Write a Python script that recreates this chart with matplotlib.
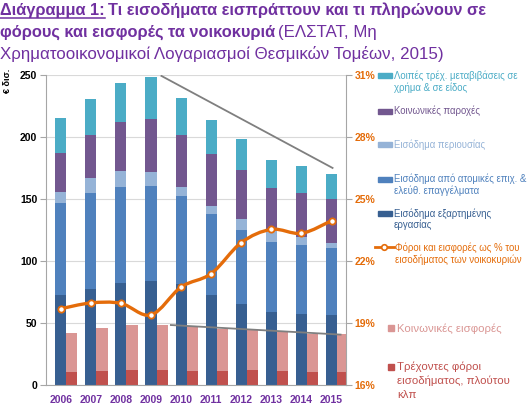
import matplotlib
matplotlib.use("Agg")
import matplotlib.pyplot as plt
import matplotlib.patches as mpatches
from matplotlib.lines import Line2D
from matplotlib.path import Path
import numpy as np

plt.rcParams['font.family'] = ['Liberation Sans', 'DejaVu Sans']

# values (€ bn and %)
years = [2006, 2007, 2008, 2009, 2010, 2011, 2012, 2013, 2014, 2015]
wages = [72.6, 77.7, 82.3, 84.1, 81.2, 72.3, 65.1, 58.9, 57.3, 56.2]
self_employed = [74.2, 77.1, 77.4, 76.7, 71.2, 65.6, 59.6, 56.4, 55.6, 54.3]
property_income = [8.8, 11.9, 12.6, 11.0, 7.3, 6.7, 9.2, 8.9, 6.7, 3.7]
social_benefits = [31.7, 34.9, 40.1, 42.7, 41.6, 41.4, 39.8, 34.9, 35.5, 36.1]
other_transfers = [27.7, 28.8, 31.4, 33.6, 30.4, 27.4, 24.7, 22.4, 21.5, 20.1]
current_taxes = [10.8, 11.6, 12.1, 12.4, 11.3, 11.3, 12.4, 11.6, 10.8, 10.2]
social_contrib = [31.4, 34.1, 36.3, 35.7, 36.3, 33.9, 32.0, 30.9, 30.3, 30.6]
tax_share = [19.69, 19.97, 19.95, 19.39, 20.74, 21.39, 22.89, 23.53, 23.34, 23.95]

# the two grey trend strokes
trend_top_x = [2009.32, 2015.06]
trend_top_y = [249.6, 174.7]
trend_low_x = [2009.63, 2015.33]
trend_low_y = [48.4, 40.6]

left_ticks = [0, 50, 100, 150, 200, 250]
right_ticks = [16, 19, 22, 25, 28, 31]

C_WAGES = "#375F91"
C_SELF = "#4F81BD"
C_PROP = "#95B3D7"
C_BEN = "#72578F"
C_OTHER = "#4BACC6"
C_CONTRIB = "#DA9694"
C_TAX = "#C0504D"
C_LINE = "#E46C0A"
PURPLE = "#7030A0"

W, H = 532, 413
fig = plt.figure(figsize=(W / 100, H / 100), dpi=100)


def fx(px):
    return px / W


def fy(py):
    return 1 - py / H


ax = fig.add_axes([fx(45.7), fy(385), fx(346) - fx(45.7), fy(75) - fy(385)])
ax2 = ax.twinx()

x = np.array(years, dtype=float)
bw = 0.37

# stacked income bars
bottom = np.zeros(len(years))
for vals, col in [(wages, C_WAGES), (self_employed, C_SELF), (property_income, C_PROP),
                  (social_benefits, C_BEN), (other_transfers, C_OTHER)]:
    ax.bar(x, vals, bw, bottom=bottom, color=col, zorder=2)
    bottom += np.array(vals)

# taxes and contributions next to them
ax.bar(x + bw, current_taxes, bw, color=C_TAX, zorder=2)
ax.bar(x + bw, social_contrib, bw, bottom=current_taxes, color=C_CONTRIB, zorder=2)

ax.plot(trend_top_x, trend_top_y, color="#7F7F7F", lw=1.3, zorder=3, solid_capstyle="butt")
ax.plot(trend_low_x, trend_low_y, color="#7F7F7F", lw=1.3, zorder=3, solid_capstyle="butt")

ax.set_xlim(2005.5, 2015.48)
ax.set_ylim(0, 250)
ax.set_yticks(left_ticks)
ax.set_xticks(years)
ax.set_xticklabels([str(y) for y in years], color=PURPLE, fontweight="bold", fontsize=7.5)
ax.tick_params(axis="x", length=0, pad=7)
ax.tick_params(axis="y", length=4, color="#A6A6A6", labelsize=7.5, pad=2)
for lab in ax.get_yticklabels():
    lab.set_fontweight("bold")
ax.grid(axis="y", color="#D9D9D9", lw=0.8, zorder=0)
ax.set_axisbelow(True)
for s in ["top", "right"]:
    ax.spines[s].set_visible(False)
ax.spines["left"].set_color("#A6A6A6")
ax.spines["bottom"].set_color("#A6A6A6")

# smooth line for tax share (bezier through the points)
ax2.set_ylim(16, 31)
ax2.set_yticks(right_ticks)
ax2.set_yticklabels([f"{t}%" for t in right_ticks], color=C_LINE, fontweight="bold", fontsize=7.5)
ax2.tick_params(axis="y", length=4, color="#A6A6A6", pad=2)
for s in ["top", "left", "bottom"]:
    ax2.spines[s].set_visible(False)
ax2.spines["right"].set_color("#A6A6A6")

pts = np.column_stack([x, tax_share])
ext = np.vstack([pts[0], pts, pts[-1]])
verts = [tuple(pts[0])]
codes = [Path.MOVETO]
for i in range(len(pts) - 1):
    p0, p1, p2, p3 = ext[i], ext[i + 1], ext[i + 2], ext[i + 3]
    c1 = p1 + (p2 - p0) / 6
    c2 = p2 - (p3 - p1) / 6
    verts += [tuple(c1), tuple(c2), tuple(p2)]
    codes += [Path.CURVE4] * 3
ax2.add_patch(mpatches.PathPatch(Path(verts, codes), fill=False, edgecolor=C_LINE,
                                 lw=2.4, zorder=4, capstyle="round"))
ax2.plot(x, tax_share, ls="none", marker="o", ms=4.5, mfc="white", mec=C_LINE, mew=1.3, zorder=5)

fig.text(fx(7), fy(81), "€ δισ.", rotation=90, ha="center", va="center",
         fontsize=6.5, fontweight="bold")

# title, built piece by piece
r = fig.canvas.get_renderer()


def put(px, py, s, weight="normal", size=11.8):
    t = fig.text(fx(px), fy(py), s, fontsize=size, fontweight=weight, color=PURPLE,
                 ha="left", va="baseline")
    bb = t.get_window_extent(renderer=r)
    return bb.x1


end = put(0, 15, "Διάγραμμα 1:", "bold")
fig.add_artist(Line2D([0, fx(end)], [fy(18), fy(18)], color=PURPLE, lw=1.1))
put(end + 3, 15, "Τι εισοδήματα εισπράττουν και τι πληρώνουν σε", "bold")
end = put(0, 37, "φόρους και εισφορές τα νοικοκυριά", "bold")
put(end + 3, 37, "(ΕΛΣΤΑΤ, Μη", size=12.2)
put(0, 58.5, "Χρηματοοικονομικοί Λογαριασμοί Θεσμικών Τομέων, 2015)", size=12.2)

# legend on the right
legend_items = [
    (75.7, ["Λοιπές τρέχ. μεταβιβάσεις σε", "χρήμα & σε είδος"], C_OTHER, "bar"),
    (111, ["Κοινωνικές παροχές"], C_BEN, "bar"),
    (144.7, ["Εισόδημα περιουσίας"], C_PROP, "bar"),
    (179, ["Εισόδημα από ατομικές επιχ. &", "ελεύθ. επαγγέλματα"], C_SELF, "bar"),
    (213.3, ["Εισόδημα εξαρτημένης", "εργασίας"], C_WAGES, "bar"),
    (247.3, ["Φόροι και εισφορές ως % του", "εισοδήματος των νοικοκυριών"], C_LINE, "line"),
    (328.3, ["Κοινωνικές εισφορές"], C_CONTRIB, "sq"),
    (366.7, ["Τρέχοντες φόροι", "εισοδήματος, πλούτου", "κλπ"], C_TAX, "sq"),
]
for yc, lines, col, kind in legend_items:
    if kind == "bar":
        fig.add_artist(mpatches.Rectangle((fx(378), fy(yc + 2.5)), fx(14), 5 / H,
                                          color=col, transform=fig.transFigure))
        tx, fs, lh = 394, 6.9, 11.7
    elif kind == "line":
        fig.add_artist(Line2D([fx(375), fx(394)], [fy(yc), fy(yc)], color=C_LINE, lw=2))
        fig.add_artist(Line2D([fx(384)], [fy(yc)], marker="o", ms=4, mfc="white",
                              mec=C_LINE, mew=1.2))
        tx, fs, lh = 395, 6.9, 12
    else:
        fig.add_artist(mpatches.Rectangle((fx(388), fy(yc + 3)), fx(6), 6 / H,
                                          color=col, transform=fig.transFigure))
        tx, fs, lh = 397, 8.2, 14
    for k, s in enumerate(lines):
        fig.text(fx(tx), fy(yc + k * lh), s, fontsize=fs, color=col,
                 ha="left", va="center")

fig.savefig("out.png", dpi=100)
